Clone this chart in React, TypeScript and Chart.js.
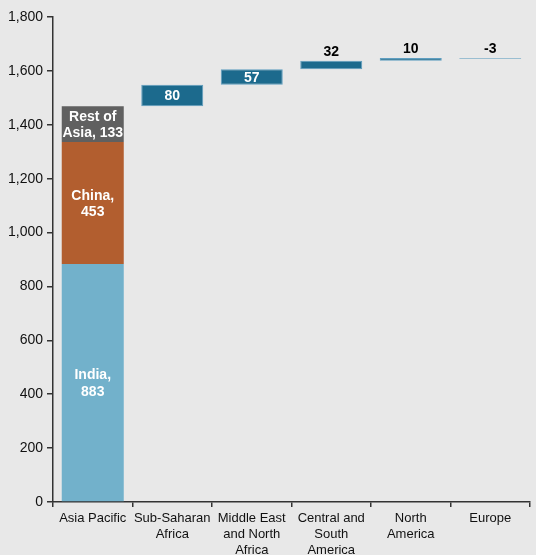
import { useEffect, useRef } from 'react';
import { Chart, registerables } from 'chart.js';

Chart.register(...registerables);

// Categories on the x axis (multi-line labels)
const categories = [
  ['Asia Pacific'],
  ['Sub-Saharan', 'Africa'],
  ['Middle East', 'and North', 'Africa'],
  ['Central and', 'South', 'America'],
  ['North', 'America'],
  ['Europe'],
];

// Asia Pacific stack
const asiaParts = ['India', 'China', 'Rest of Asia'];
const asiaLabelNames = [['India,'], ['China,'], ['Rest of', 'Asia,']];
const asiaValues = [883, 453, 133];
const asiaColors = ['#72b1cb', '#b25e2f', '#606060'];

// Increments for the other regions (waterfall)
const regionChanges = [80, 57, 32, 10, -3];

const yTicks = [0, 200, 400, 600, 800, 1000, 1200, 1400, 1600, 1800];

const FONT = '"Liberation Sans", Arial, sans-serif';

function buildDatasets() {
  const datasets: any[] = [];
  let running = 0;
  asiaValues.forEach((v, i) => {
    const data: any[] = categories.map(() => null);
    data[0] = [running, running + v];
    running += v;
    const names = asiaLabelNames[i];
    const lines = names.length === 1 ? [...names, String(v)] : [...names.slice(0, -1), `${names[names.length - 1]} ${v}`];
    datasets.push({
      label: asiaParts[i],
      data,
      backgroundColor: asiaColors[i],
      borderWidth: 0,
      grouped: false,
      barPercentage: 0.78,
      categoryPercentage: 1,
      labelLines: [lines],
    });
  });
  const regionData: any[] = [null];
  const regionLines: any[] = [null];
  regionChanges.forEach((v) => {
    regionData.push([running, running + v]);
    regionLines.push([String(v)]);
    running += v;
  });
  datasets.push({
    label: 'Change',
    data: regionData,
    backgroundColor: '#1c6a8d',
    borderColor: '#5f9ec0',
    borderWidth: 1,
    borderSkipped: false,
    grouped: false,
    barPercentage: 0.78,
    categoryPercentage: 1,
    labelLines: regionLines,
  });
  return datasets;
}

const barLabels = {
  id: 'barLabels',
  afterDatasetsDraw(chart: any) {
    const ctx = chart.ctx;
    ctx.save();
    ctx.font = `bold 14px ${FONT}`;
    ctx.textAlign = 'center';
    ctx.textBaseline = 'middle';
    chart.data.datasets.forEach((ds: any, di: number) => {
      const meta = chart.getDatasetMeta(di);
      meta.data.forEach((el: any, i: number) => {
        const lines = ds.labelLines && ds.labelLines[ds.labelLines.length === 1 ? 0 : i];
        if (!lines || ds.data[i] == null) return;
        const top = Math.min(el.y, el.base);
        const bottom = Math.max(el.y, el.base);
        const h = bottom - top;
        const lh = 16.5;
        if (h > 14) {
          ctx.fillStyle = '#ffffff';
          const cy = (top + bottom) / 2 + 1;
          lines.forEach((t: string, k: number) => {
            ctx.fillText(t, el.x, cy + (k - (lines.length - 1) / 2) * lh);
          });
        } else {
          ctx.fillStyle = '#000000';
          ctx.fillText(lines[0], el.x, top - 9);
        }
      });
    });
    ctx.restore();
  },
};

export default function App() {
  const canvasRef = useRef<HTMLCanvasElement>(null);
  const chartRef = useRef<any>(null);

  useEffect(() => {
    if (!canvasRef.current) return;
    if (chartRef.current) chartRef.current.destroy();

    chartRef.current = new Chart(canvasRef.current, {
      type: 'bar',
      data: {
        labels: categories,
        datasets: buildDatasets(),
      },
      plugins: [barLabels],
      options: {
        responsive: true,
        maintainAspectRatio: false,
        animation: false,
        layout: { padding: { top: 17, right: 10, left: 0, bottom: 0 } },
        plugins: {
          legend: { display: false },
          tooltip: { enabled: false },
        },
        scales: {
          x: {
            offset: true,
            afterFit: (s: any) => { s.height = 53; },
            grid: {
              offset: true,
              drawOnChartArea: false,
              tickLength: 5,
              color: '#333',
              lineWidth: 1.5,
            },
            border: { display: true, color: '#333', width: 1.5 },
            ticks: {
              color: '#111',
              padding: 3,
              maxRotation: 0,
              autoSkip: false,
              font: { family: FONT, size: 13, lineHeight: 1.23 },
            },
          },
          y: {
            min: 0,
            max: 1800,
            afterFit: (s: any) => { s.width = 53; },
            afterBuildTicks: (s: any) => { s.ticks = yTicks.map((v) => ({ value: v })); },
            grid: {
              drawOnChartArea: false,
              tickLength: 6,
              color: '#333',
              lineWidth: 1.5,
            },
            border: { display: true, color: '#333', width: 1.5 },
            ticks: {
              color: '#111',
              padding: 4,
              font: { family: FONT, size: 14 },
              callback: (v: any) => Number(v).toLocaleString('en-US'),
            },
          },
        },
      },
    });

    return () => {
      if (chartRef.current) {
        chartRef.current.destroy();
        chartRef.current = null;
      }
    };
  }, []);

  return (
    <div
      style={{
        position: 'absolute',
        left: 0,
        top: 0,
        width: 540,
        height: 555,
        background: 'linear-gradient(to right, #e8e8e8 536px, #ffffff 536px)',
      }}
    >
      <canvas ref={canvasRef}></canvas>
    </div>
  );
}
